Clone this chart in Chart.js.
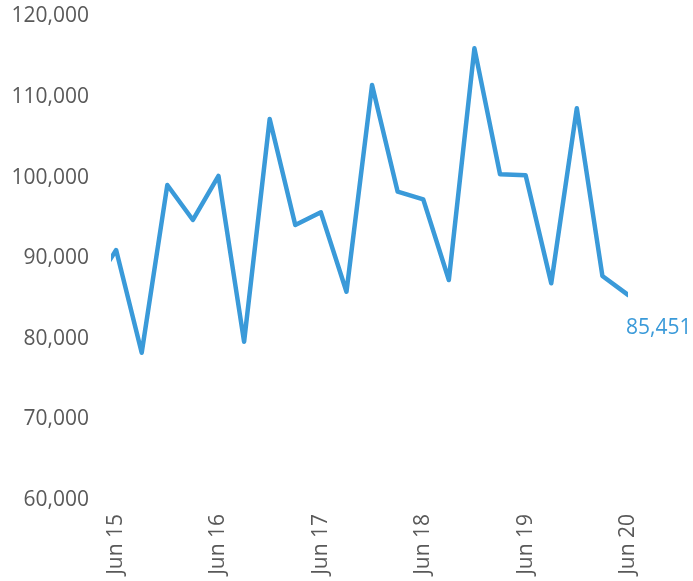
<!DOCTYPE html>
<html>
<head>
<meta charset="utf-8">
<script src="https://cdn.jsdelivr.net/npm/chart.js@4"></script>
<style>
  html, body { margin: 0; padding: 0; background: #fff; overflow: hidden; }
  #wrap { width: 693px; height: 581px; }
</style>
</head>
<body>
<div id="wrap"><canvas id="chart" width="693" height="581"></canvas></div>
<script>
// Quarterly values, Mar 15 (partly hidden at the left edge) to Jun 20
const quarters = ["Mar 15","Jun 15","Sep 15","Dec 15","Mar 16","Jun 16","Sep 16","Dec 16",
  "Mar 17","Jun 17","Sep 17","Dec 17","Mar 18","Jun 18","Sep 18","Dec 18",
  "Mar 19","Jun 19","Sep 19","Dec 19","Mar 20","Jun 20"];
const values = [86000, 91020, 78280, 99090, 94750, 100210, 79640, 107280,
  94130, 95700, 85850, 111500, 98260, 97310, 87300, 116050,
  100420, 100300, 86890, 108610, 87800, 85451];
const tickLabels = ["Jun 15", "Jun 16", "Jun 17", "Jun 18", "Jun 19", "Jun 20"];
const yTicks = [60000, 70000, 80000, 90000, 100000, 110000, 120000];

const lineColor = "#3a9ad9";
const textColor = "#595959";
const font = { family: "'Open Sans', 'Liberation Sans', sans-serif", size: 21 };

// Jun 15 sits at x = 0, one step per quarter
const points = values.map((v, i) => ({ x: i - 1, y: v }));

// Label for the last value
const lastLabel = {
  id: "lastLabel",
  afterDatasetsDraw(chart) {
    const meta = chart.getDatasetMeta(0);
    const pt = meta.data[meta.data.length - 1];
    const ctx = chart.ctx;
    ctx.save();
    ctx.font = "21px " + font.family;
    ctx.fillStyle = lineColor;
    ctx.textAlign = "left";
    ctx.textBaseline = "middle";
    ctx.fillText(values[values.length - 1].toLocaleString("en-US"), pt.x - 2, pt.y + 33);
    ctx.restore();
  }
};

new Chart(document.getElementById("chart").getContext("2d"), {
  type: "line",
  data: {
    datasets: [{
      data: points,
      borderColor: lineColor,
      borderWidth: 4.5,
      pointRadius: 0,
      tension: 0,
      borderCapStyle: "round",
      borderJoinStyle: "round"
    }]
  },
  options: {
    responsive: false,
    animation: false,
    layout: { padding: { top: 16.5, right: 65, left: 0, bottom: 0 } },
    plugins: { legend: { display: false }, tooltip: { enabled: false } },
    scales: {
      x: {
        type: "linear",
        min: -0.2,
        max: 20,
        grid: { display: false, drawTicks: false },
        border: { display: false },
        afterBuildTicks: (scale) => {
          scale.ticks = tickLabels.map((t, i) => ({ value: i * 4 }));
        },
        afterFit: (scale) => {
          scale.height = 81;
          scale.paddingLeft = 0;
          scale.paddingRight = 0;
        },
        ticks: {
          color: textColor,
          font: font,
          padding: 14,
          minRotation: 90,
          maxRotation: 90,
          autoSkip: false,
          callback: (v) => tickLabels[v / 4]
        }
      },
      y: {
        min: 60000,
        max: 120000,
        grid: { display: false, drawTicks: false },
        border: { display: false },
        afterBuildTicks: (scale) => {
          scale.ticks = yTicks.map(v => ({ value: v }));
        },
        afterFit: (scale) => {
          scale.width = 111;
          scale.paddingTop = 0;
          scale.paddingBottom = 0;
        },
        ticks: {
          color: textColor,
          font: font,
          padding: 22,
          callback: (v) => v.toLocaleString("en-US")
        }
      }
    }
  },
  plugins: [lastLabel]
});
</script>
</body>
</html>
